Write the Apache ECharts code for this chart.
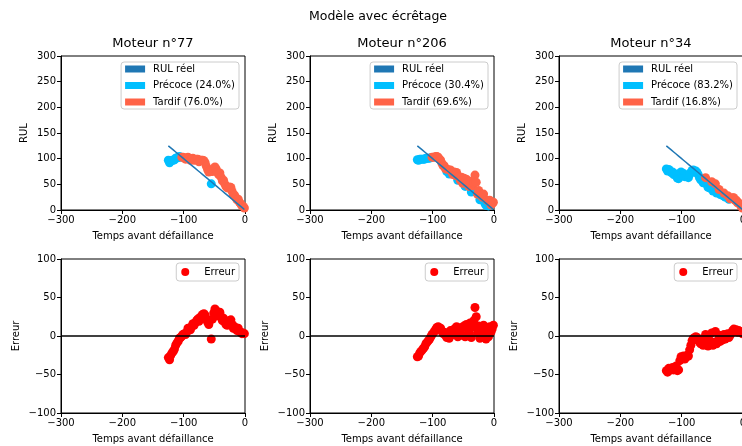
<!DOCTYPE html>
<html>
<head>
<meta charset="utf-8">
<script src="https://cdn.jsdelivr.net/npm/echarts@6/dist/echarts.min.js"></script>
<style>
html, body { margin: 0; padding: 0; background: #fff; }
#main { width: 742px; height: 446px; }
</style>
</head>
<body>
<div id="main"></div>
<script>
// temps avant défaillance (un point sur deux)
var temps = [-125, -123, -121, -119, -117, -115, -113, -111, -109, -107,
	-105, -103, -101, -99, -97, -95, -93, -91, -89, -87,
	-85, -83, -81, -79, -77, -75, -73, -71, -69, -67,
	-65, -63, -61, -59, -57, -55, -53, -51, -49, -47,
	-45, -43, -41, -39, -37, -35, -33, -31, -29, -27,
	-25, -23, -21, -19, -17, -15, -13, -11, -9, -7,
	-5, -3, -1];

// RUL prédit (modèle avec écrêtage)
var predit77 = [97, 92, 96, 97, 97, 98, 101, 102, 102, 104,
	103, 103, 103, 102, 99, 100, 103, 101, 97, 99,
	101, 97, 98, 99, 99, 94, 97, 97, 97, 96,
	92, 85, 79, 74, 77, 51, 75, 81, 84, 80,
	74, 69, 72, 64, 57, 58, 51, 46, 43, 44,
	45, 44, 36, 29, 29, 24, 20, 21, 15, 12,
	8, 7, 4];
var predit206 = [98, 97, 99, 99, 99, 99, 99, 101, 101, 101,
	101, 102, 103, 103, 103, 104, 104, 103, 99, 97,
	91, 86, 86, 80, 75, 79, 70, 78, 74, 69,
	74, 67, 73, 58, 65, 58, 64, 52, 62, 46,
	60, 53, 46, 56, 35, 47, 53, 68, 54, 31,
	38, 20, 31, 25, 31, 13, 9, 19, 8, 19,
	10, 12, 15];
var predit34 = [80, 76, 79, 76, 73, 74, 69, 69, 70, 62,
	61, 71, 74, 71, 71, 65, 65, 66, 63, 69,
	73, 77, 78, 74, 76, 73, 69, 63, 59, 61,
	53, 60, 63, 50, 44, 50, 42, 55, 37, 39,
	51, 33, 35, 40, 30, 32, 28, 33, 25, 26,
	28, 21, 22, 23, 24, 24, 19, 19, 14, 14,
	11, 7, 4];

var moteurs = ['Moteur n°77', 'Moteur n°206', 'Moteur n°34'];
var predits = [predit77, predit206, predit34];
var labelsPrecoce = ['Précoce (24.0%)', 'Précoce (30.4%)', 'Précoce (83.2%)'];
var labelsTardif = ['Tardif (76.0%)', 'Tardif (69.6%)', 'Tardif (16.8%)'];
var ticksX = [-300, -200, -100, 0];
var ticksRUL = [0, 50, 100, 150, 200, 250, 300];
var ticksErreur = [-100, -50, 0, 50, 100];

var myChart = echarts.init(document.getElementById('main'));

var police = 'DejaVu Sans';
var colLeft = [61, 310, 559];
var largeur = 184;
var taille = 9;
var grids = [], xAxes = [], yAxes = [], series = [], legends = [];
var titles = [{
	text : 'Modèle avec écrêtage',
	left : 378,
	top : 10,
	padding : 0,
	textAlign : 'center',
	textStyle : { fontSize : 12.5, fontWeight : 'normal', color : '#000', fontFamily : police }
}];

function moins(v) {
	return String(v).replace('-', '\u2212');
}

function axe(grid, ticks, nom, gap) {
	return {
		gridIndex : grid,
		type : 'value',
		min : ticks[0],
		max : ticks[ticks.length - 1],
		interval : ticks[1] - ticks[0],
		name : nom,
		nameLocation : 'middle',
		nameGap : gap,
		nameTextStyle : { fontSize : 10, color : '#000', fontFamily : police },
		axisLine : { show : true, onZero : false, lineStyle : { color : '#000', width : 1 } },
		axisTick : { show : true, length : 4, lineStyle : { color : '#000' } },
		axisLabel : { fontSize : 10, color : '#000', fontFamily : police, margin : 5, formatter : moins },
		splitLine : { show : false }
	};
}

for (var i = 0; i < 3; i++) {
	var pred = predits[i];
	grids.push({ left : colLeft[i], top : 56, width : largeur, height : 154, outerBoundsMode : 'none',
		show : true, borderColor : '#000', borderWidth : 1, backgroundColor : 'transparent' });
	grids.push({ left : colLeft[i], top : 259, width : largeur, height : 154, outerBoundsMode : 'none',
		show : true, borderColor : '#000', borderWidth : 1, backgroundColor : 'transparent' });
	var gh = 2 * i, gb = 2 * i + 1;
	xAxes[gh] = axe(gh, ticksX, 'Temps avant défaillance', 21);
	xAxes[gb] = axe(gb, ticksX, 'Temps avant défaillance', 21);
	yAxes[gh] = axe(gh, ticksRUL, 'RUL', 32);
	yAxes[gb] = axe(gb, ticksErreur, 'Erreur', 40);

	titles.push({
		text : moteurs[i],
		left : colLeft[i] + largeur / 2,
		top : 37,
		padding : 0,
		textAlign : 'center',
		textStyle : { fontSize : 13, fontWeight : 'normal', color : '#000', fontFamily : police }
	});

	var precoce = [], tardif = [], reel = [], erreur = [];
	for (var k = 0; k < temps.length; k++) {
		var t = temps[k];
		reel.push([t, -t]);
		erreur.push([t, pred[k] + t]);
		if (pred[k] < -t) precoce.push([t, pred[k]]);
		else tardif.push([t, pred[k]]);
	}

	series.push({
		name : labelsPrecoce[i], type : 'scatter', xAxisIndex : gh, yAxisIndex : gh,
		data : precoce, symbolSize : taille, itemStyle : { color : '#00BFFF', opacity : 1 }, z : 2
	});
	series.push({
		name : labelsTardif[i], type : 'scatter', xAxisIndex : gh, yAxisIndex : gh,
		data : tardif, symbolSize : taille, itemStyle : { color : '#FF6347', opacity : 1 }, z : 2
	});
	series.push({
		name : 'RUL réel', type : 'line', xAxisIndex : gh, yAxisIndex : gh,
		data : reel, showSymbol : false, symbol : 'none',
		lineStyle : { color : '#1f77b4', width : 1.5 }, itemStyle : { color : '#1f77b4' }, z : 5
	});
	series.push({
		name : 'Erreur', type : 'scatter', xAxisIndex : gb, yAxisIndex : gb,
		data : erreur, symbolSize : taille, itemStyle : { color : '#FF0000', opacity : 1 }, z : 2,
		markLine : {
			silent : true, symbol : 'none', label : { show : false },
			lineStyle : { color : '#000', width : 1.5, type : 'solid' },
			data : [ { yAxis : 0 } ]
		}
	});

	var droite = 742 - (colLeft[i] + largeur) + 6;
	legends.push({
		orient : 'vertical', right : droite, top : 62,
		data : [ { name : 'RUL réel', icon : 'rect' },
			{ name : labelsPrecoce[i], icon : 'rect' },
			{ name : labelsTardif[i], icon : 'rect' } ],
		itemWidth : 20, itemHeight : 7, itemGap : 6.5,
		padding : [2, 4, 2, 4],
		borderColor : '#ccc', borderWidth : 1, borderRadius : 3,
		backgroundColor : 'rgba(255,255,255,0.8)',
		selectedMode : false,
		textStyle : { fontSize : 10, color : '#000', fontFamily : police, padding : [0, 0, 0, 3] }
	});
	legends.push({
		orient : 'vertical', right : droite, top : 263,
		data : [ { name : 'Erreur', icon : 'circle' } ],
		itemWidth : 20, itemHeight : 8,
		padding : [4, 4, 4, 5],
		borderColor : '#ccc', borderWidth : 1, borderRadius : 3,
		backgroundColor : 'rgba(255,255,255,0.8)',
		selectedMode : false,
		textStyle : { fontSize : 10, color : '#000', fontFamily : police, padding : [0, 0, 0, 4] }
	});
}

var option = {
	animation : false,
	backgroundColor : '#fff',
	textStyle : { fontFamily : police },
	title : titles,
	legend : legends,
	grid : grids,
	xAxis : xAxes,
	yAxis : yAxes,
	series : series
};
myChart.setOption(option);
</script>
</body>
</html>
